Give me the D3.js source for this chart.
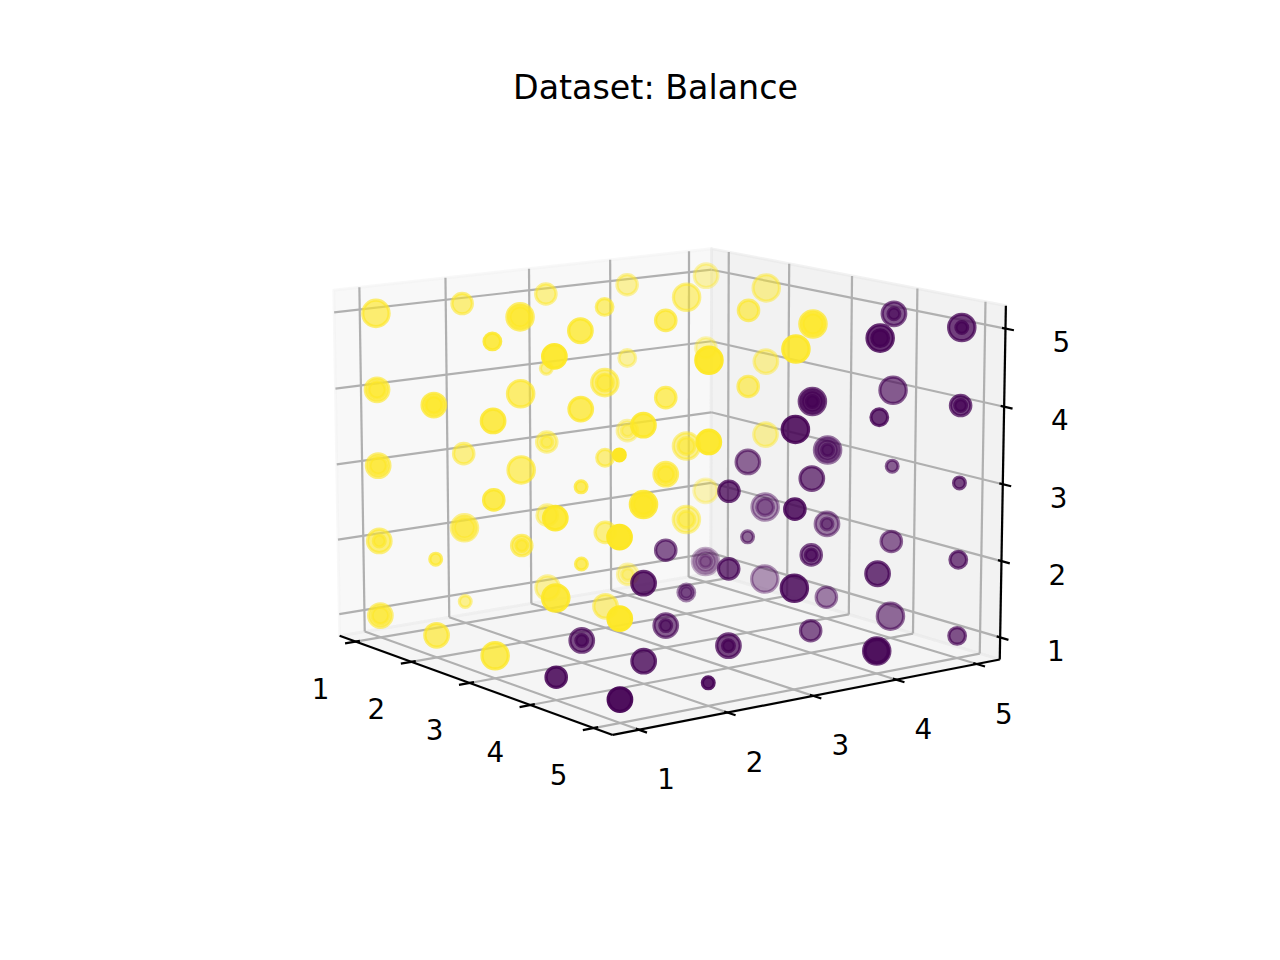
<!DOCTYPE html>
<html>
<head>
<meta charset="utf-8">
<title>Dataset: Balance</title>
<script src="https://d3js.org/d3.v7.min.js"></script>
<style>
    body { margin: 0; background: #fff; }
    text { font-family: "DejaVu Sans", sans-serif; fill: #000; }
</style>
</head>
<body>
<div id="chart"></div>
<script>
    // ---- data: one entry per plotted sample ----
    // x axis, y axis, z axis, marker size, colour group (1 = yellow, 0 = purple)
    var leftWeight = [
        1,1,2,2,3,1,4,1,1,1, 2,2,3,2,1,1,1,1,1,2, 3,1,1,1,1,2,2,2,4,1,
        1,4,1,1,1,2,3,1,2,3, 2,1,3,2,3,1,5,1,2,2, 3,3,2,3,4,1,1,2,2,5,
        2,5,3,3,2,3,1,4,4,2, 2,2,5,3,1,1,2,5,4,4, 5,
        3,4,2,2,3,3,1,1,1,4, 2,4,2,2,3,3,3,3,4,4, 4,4,5,5,4,4,5,5,5,5,
        4,4,4,4,5,5,5,5,3,3, 3,4,4,5,5,3,3,4,4,4, 5,5,5,3,4,4,5,5,5
    ];
    var leftDistance = [
        1,2,2,2,1,3,1,3,1,1, 1,1,1,2,3,3,2,1,1,2, 1,2,2,1,1,1,2,2,1,3,
        3,1,2,1,1,1,1,4,3,2, 4,5,3,5,4,4,2,5,3,3, 2,3,5,4,2,4,4,4,4,2,
        3,1,3,3,5,2,5,2,2,4, 4,3,1,2,4,4,3,1,4,4, 3,
        4,3,5,5,4,3,5,5,5,3, 5,2,4,4,3,3,2,2,3,3, 2,1,2,1,5,5,4,4,5,5,
        4,4,4,5,4,5,5,3,5,5, 5,4,5,5,3,5,5,4,4,5, 5,4,3,5,5,4,4,4,5
    ];
    var rightWeight = [
        5,5,5,5,5,5,5,4,4,4, 4,4,4,4,3,3,3,3,3,3, 3,2,2,2,2,2,2,2,3,2,
        1,2,1,1,1,1,1,5,5,5, 5,5,5,5,5,4,5,4,4,4, 4,4,4,4,4,3,3,3,3,4,
        3,4,3,3,3,3,2,3,3,2, 2,2,3,2,1,1,1,2,5,5, 5,
        3,3,2,2,2,2,1,1,1,2, 1,2,1,1,1,1,1,1,1,1, 1,1,1,1,5,5,5,5,5,5,
        4,4,4,4,4,4,4,4,3,3, 3,3,3,3,3,2,2,2,2,2, 2,2,2,1,1,1,1,1,1
    ];
    var rightDistance = [
        5,3,5,3,2,3,4,1,4,2, 4,2,4,5,3,1,3,4,2,5, 3,5,3,4,1,1,3,1,4,3,
        4,5,1,4,2,4,5,3,2,4, 5,4,3,5,3,2,5,3,5,2, 4,3,4,3,4,3,1,5,2,4,
        2,1,4,2,4,1,4,5,3,5, 2,3,4,1,3,1,4,4,5,3, 5,
        4,3,5,2,1,3,5,3,1,3, 5,4,2,1,4,1,4,1,4,1, 4,3,1,4,4,1,5,2,5,1,
        5,3,1,5,2,3,1,5,5,3, 1,4,1,1,3,4,1,3,1,3, 2,4,5,3,5,3,5,4,2
    ];
    var colourGroup = d3.range(81).map(function() { return 1; })
        .concat(d3.range(59).map(function() { return 0; }));

    var tickValues = [1, 2, 3, 4, 5];
    var tickLabels = ["1", "2", "3", "4", "5"];
    var title = "Dataset: Balance";

    // ---- 3d set-up (matplotlib style perspective camera) ----
    var width = 1280, height = 960;
    var deg = Math.PI / 180;
    var box = [4, 4, 3].map(function(v) { return v * 1.8294640721620434 / Math.sqrt(41); });
    var dataLim = [0.8, 5.2];
    var lo = dataLim[0] - (dataLim[1] - dataLim[0]) / 48;
    var hi = dataLim[1] + (dataLim[1] - dataLim[0]) / 48;

    var wx = d3.scaleLinear().domain(dataLim).range([-box[0] / 2, box[0] / 2]);
    var wy = d3.scaleLinear().domain(dataLim).range([-box[1] / 2, box[1] / 2]);
    var wz = d3.scaleLinear().domain(dataLim).range([-box[2] / 2, box[2] / 2]);

    // where the frame of the box sits on the page (corners, wall grid ends)
    var frameAnchors = [
        [lo, lo, hi, 334, 289], [lo, lo, lo, 339, 636], [lo, hi, hi, 712.7, 249.3],
        [hi, hi, hi, 1005, 305], [hi, hi, lo, 1000, 660], [hi, lo, lo, 613, 734],
        [hi, hi, 1, 1000.3, 638.3], [hi, hi, 2, 1001.7, 561.7], [hi, hi, 3, 1003.3, 485],
        [hi, hi, 4, 1004, 406.7], [hi, hi, 5, 1004.7, 329.3],
        [lo, lo, 1, 338.7, 614], [lo, lo, 2, 337.6, 539], [lo, lo, 3, 336.5, 464.3],
        [lo, lo, 4, 335.4, 388.7], [lo, lo, 5, 334.3, 312.7],
        [lo, 1, hi, 360, 286.3], [lo, 2, hi, 446, 277.3], [lo, 3, hi, 529, 268.6],
        [lo, 4, hi, 610, 260.1], [lo, 5, hi, 689, 251.8],
        [1, hi, hi, 729.3, 252.5], [2, hi, hi, 789.3, 263.9], [3, hi, hi, 851.7, 275.8],
        [4, hi, hi, 917.3, 288.3], [5, hi, hi, 985, 301.2]
    ];

    function camera(elev, azim, dist) {
        var e = elev * deg, a = azim * deg;
        var u = [-Math.sin(a), Math.cos(a), 0];
        var v = [-Math.sin(e) * Math.cos(a), -Math.sin(e) * Math.sin(a), Math.cos(e)];
        var w = [Math.cos(e) * Math.cos(a), Math.cos(e) * Math.sin(a), Math.sin(e)];
        return function(x, y, z) {
            var p = [wx(x), wy(y), wz(z)];
            var dot = function(q) { return q[0] * p[0] + q[1] * p[1] + q[2] * p[2]; };
            var depth = dist - dot(w);
            return [dot(u) / depth, dot(v) / depth, depth];
        };
    }

    function fitFrame(view) {
        var P = frameAnchors.map(function(d) { return view(d[0], d[1], d[2]); });
        var mX = d3.mean(P, function(p) { return p[0]; });
        var mY = d3.mean(P, function(p) { return p[1]; });
        var mx = d3.mean(frameAnchors, function(d) { return d[3]; });
        var my = d3.mean(frameAnchors, function(d) { return d[4]; });
        var num = 0, den = 0;
        P.forEach(function(p, i) {
            num += (p[0] - mX) * (frameAnchors[i][3] - mx) - (p[1] - mY) * (frameAnchors[i][4] - my);
            den += (p[0] - mX) * (p[0] - mX) + (p[1] - mY) * (p[1] - mY);
        });
        var s = num / den, cx = mx - s * mX, cy = my + s * mY;
        var err = 0;
        P.forEach(function(p, i) {
            var ex = cx + s * p[0] - frameAnchors[i][3];
            var ey = cy - s * p[1] - frameAnchors[i][4];
            err += ex * ex + ey * ey;
        });
        return { s: s, cx: cx, cy: cy, err: err };
    }

    var best = null;
    for (var dist = 6; dist <= 16; dist += 1) {
        for (var elev = 6; elev <= 18; elev += 0.2) {
            for (var azim = -44; azim <= -30; azim += 0.2) {
                var view = camera(elev, azim, dist);
                var f = fitFrame(view);
                if (!best || f.err < best.err) { f.view = view; best = f; }
            }
        }
    }

    var screenX = d3.scaleLinear().domain([0, 1]).range([best.cx, best.cx + best.s]);
    var screenY = d3.scaleLinear().domain([0, 1]).range([best.cy, best.cy - best.s]);

    function proj(x, y, z) {
        var p = best.view(x, y, z);
        return [screenX(p[0]), screenY(p[1]), p[2]];
    }

    var svg = d3.select("#chart").append("svg")
        .attr("width", width)
        .attr("height", height);

    // Title
    svg.append("text")
        .attr("x", 655.5)
        .attr("y", 99)
        .attr("text-anchor", "middle")
        .style("font-size", "33.3px")
        .text(title);

    // Panes
    var panes = [
        { pts: [[lo, lo, lo], [lo, hi, lo], [lo, hi, hi], [lo, lo, hi]], color: "#f2f2f2" },
        { pts: [[lo, hi, lo], [hi, hi, lo], [hi, hi, hi], [lo, hi, hi]], color: "#e6e6e6" },
        { pts: [[lo, lo, lo], [hi, lo, lo], [hi, hi, lo], [lo, hi, lo]], color: "#ececec" }
    ];
    var line = d3.line();
    svg.append("g").selectAll("path")
        .data(panes)
        .enter().append("path")
        .attr("d", function(d) {
            return line(d.pts.map(function(p) { return proj(p[0], p[1], p[2]).slice(0, 2); })) + "Z";
        })
        .attr("fill", function(d) { return d.color; })
        .attr("fill-opacity", 0.5)
        .attr("stroke", function(d) { return d.color; })
        .attr("stroke-opacity", 0.5)
        .attr("stroke-width", 2.78)
        .attr("stroke-linejoin", "round");

    // Grid lines on the three panes
    var grid = [];
    tickValues.forEach(function(t) {
        grid.push([[lo, t, lo], [lo, t, hi]], [[lo, lo, t], [lo, hi, t]]);   // left wall
        grid.push([[t, hi, lo], [t, hi, hi]], [[lo, hi, t], [hi, hi, t]]);   // right wall
        grid.push([[t, lo, lo], [t, hi, lo]], [[lo, t, lo], [hi, t, lo]]);   // floor
    });
    svg.append("g").selectAll("line")
        .data(grid)
        .enter().append("line")
        .each(function(d) {
            var p0 = proj(d[0][0], d[0][1], d[0][2]), p1 = proj(d[1][0], d[1][1], d[1][2]);
            d3.select(this).attr("x1", p0[0]).attr("y1", p0[1]).attr("x2", p1[0]).attr("y2", p1[1]);
        })
        .attr("stroke", "#b0b0b0")
        .attr("stroke-width", 2.22);

    // Axis lines, ticks and tick labels
    var tin = 0.05, tout = 0.12;
    var axes = [
        { from: [lo, lo, lo], to: [hi, lo, lo],
          tick: function(t) { return [[t, lo + tin, lo], [t, lo - tout, lo]]; },
          base: function(t) { return [t, lo, lo]; }, off: [-35, 47.5] },
        { from: [hi, lo, lo], to: [hi, hi, lo],
          tick: function(t) { return [[hi - tin, t, lo], [hi + tout, t, lo]]; },
          base: function(t) { return [hi, t, lo]; }, off: [27, 50] },
        { from: [hi, hi, lo], to: [hi, hi, hi],
          tick: function(t) { return [[hi - tin, hi, t], [hi + tout, hi, t]]; },
          base: function(t) { return [hi, hi, t]; }, off: [55.8, 14.2] }
    ];
    var axisG = svg.append("g");
    axes.forEach(function(ax) {
        var a0 = proj.apply(null, ax.from), a1 = proj.apply(null, ax.to);
        axisG.append("line")
            .attr("x1", a0[0]).attr("y1", a0[1]).attr("x2", a1[0]).attr("y2", a1[1])
            .attr("stroke", "#000").attr("stroke-width", 2.22);
        tickValues.forEach(function(t, i) {
            var seg = ax.tick(t);
            var p0 = proj.apply(null, seg[0]), p1 = proj.apply(null, seg[1]);
            axisG.append("line")
                .attr("x1", p0[0]).attr("y1", p0[1]).attr("x2", p1[0]).attr("y2", p1[1])
                .attr("stroke", "#000").attr("stroke-width", 2.22);
            var b = proj.apply(null, ax.base(t));
            axisG.append("text")
                .attr("x", b[0] + ax.off[0])
                .attr("y", b[1] + ax.off[1])
                .attr("text-anchor", "middle")
                .attr("dominant-baseline", "central")
                .style("font-size", "27.8px")
                .text(tickLabels[i]);
        });
    });

    // ---- scatter points, depth shaded and drawn back to front ----
    var colour = d3.scaleSequential(d3.interpolateViridis).domain([0, 1]);
    var radius = d3.scaleSqrt().domain([0, 5]).range([0, Math.sqrt(18 * 5) * 200 / 72 / 2]);

    var points = leftWeight.map(function(a, i) {
        var p = proj(a, leftDistance[i], rightWeight[i]);
        return { x: p[0], y: p[1], depth: p[2], size: rightDistance[i], group: colourGroup[i] };
    });
    var depthExt = d3.extent(points, function(d) { return d.depth; });
    var shade = d3.scaleLinear().domain(depthExt).range([1, 0.3]);
    points.sort(function(p, q) { return (q.depth - p.depth) || (q.size - p.size); });

    svg.append("g").selectAll("circle")
        .data(points)
        .enter().append("circle")
        .attr("cx", function(d) { return d.x; })
        .attr("cy", function(d) { return d.y; })
        .attr("r", function(d) { return radius(d.size); })
        .attr("fill", function(d) { return colour(d.group); })
        .attr("fill-opacity", function(d) { return shade(d.depth); })
        .attr("stroke", function(d) { return colour(d.group); })
        .attr("stroke-opacity", function(d) { return shade(d.depth); })
        .attr("stroke-width", 3.2);
</script>
</body>
</html>
